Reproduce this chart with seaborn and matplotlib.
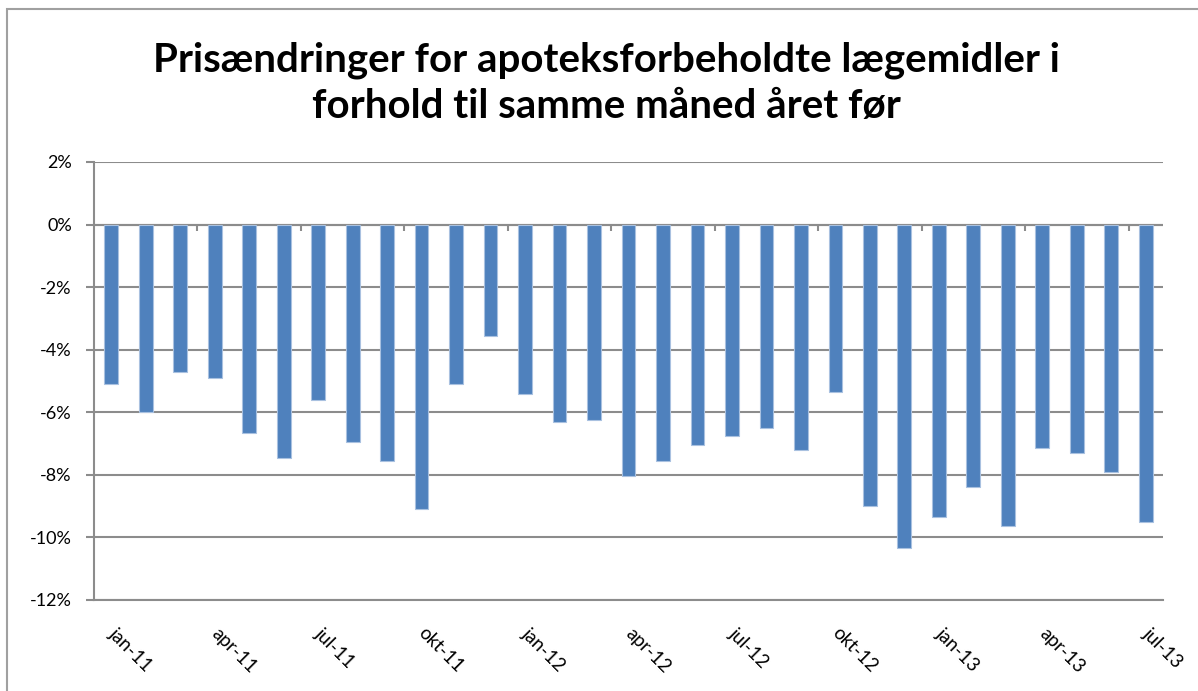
import matplotlib
matplotlib.use("Agg")
import matplotlib.pyplot as plt
import matplotlib.patches as mpatches
import matplotlib.ticker as mticker
import seaborn as sns
import pandas as pd
import numpy as np

# Data, in percent
months = ['jan-11', 'feb-11', 'mar-11', 'apr-11', 'maj-11', 'jun-11', 'jul-11',
          'aug-11', 'sep-11', 'okt-11', 'nov-11', 'dec-11',
          'jan-12', 'feb-12', 'mar-12', 'apr-12', 'maj-12', 'jun-12', 'jul-12',
          'aug-12', 'sep-12', 'okt-12', 'nov-12', 'dec-12',
          'jan-13', 'feb-13', 'mar-13', 'apr-13', 'maj-13', 'jun-13', 'jul-13']
price_change = [-5.1, -6.0, -4.7, -4.9, -6.65, -7.45, -5.6,
                -6.95, -7.55, -9.1, -5.1, -3.55,
                -5.4, -6.3, -6.25, -8.05, -7.55, -7.05, -6.75,
                -6.5, -7.2, -5.35, -9.0, -10.35,
                -9.35, -8.4, -9.65, -7.15, -7.3, -7.9, -9.5]
y_ticks = [2, 0, -2, -4, -6, -8, -10, -12]

title = "Prisændringer for apoteksforbeholdte lægemidler i\nforhold til samme måned året før"

df = pd.DataFrame({'month': months, 'change': price_change})

sns.set_theme(style='white')
plt.rcParams['font.family'] = ['Lato', 'DejaVu Sans']
plt.rcParams['text.color'] = 'black'

grid_color = '#8c8c8c'
bar_color = '#4f81bd'

fig = plt.figure(figsize=(11.98, 6.91), dpi=100)
ax = fig.add_axes([94 / 1198, 1 - 600 / 691, (1163 - 94) / 1198, (600 - 162) / 691])

sns.barplot(data=df, x='month', y='change', color=bar_color, width=0.4,
            saturation=1, edgecolor='#a9c1e0', linewidth=0.8, ax=ax, zorder=3)

ax.set_xlim(-0.5, len(months) - 0.5)
ax.set_ylim(min(y_ticks), max(y_ticks))
ax.set_yticks(y_ticks)
ax.yaxis.set_major_formatter(mticker.FuncFormatter(lambda v, p: f"{v:.0f}%"))
ax.grid(axis='y', color=grid_color, linewidth=1.5, zorder=0)
ax.tick_params(axis='y', length=6, width=1.5, color=grid_color, labelsize=13,
               labelcolor='black', pad=10, left=True)

# category axis crosses at 0%
ax.axhline(0, color=grid_color, linewidth=1.5, zorder=2)
bounds = np.arange(2.5, len(months) - 1, 3)
ax.vlines(bounds, -0.22, 0, color=grid_color, linewidth=1.5, zorder=2)

label_pos = np.arange(0, len(months), 3)
ax.set_xticks(label_pos)
ax.set_xticklabels([months[i] for i in label_pos])
ax.tick_params(axis='x', length=0, labelsize=13.5, labelcolor='black', pad=22)
for lbl in ax.get_xticklabels():
    lbl.set_rotation(-45)
    lbl.set_ha('left')
    lbl.set_va('center')
    lbl.set_rotation_mode('anchor')

ax.set_xlabel('')
ax.set_ylabel('')
for side in ['top', 'right']:
    ax.spines[side].set_visible(False)
ax.spines['left'].set_color(grid_color)
ax.spines['left'].set_linewidth(1.5)
ax.spines['bottom'].set_color(grid_color)
ax.spines['bottom'].set_linewidth(1.5)

fig.text(606 / 1198, 1 - 83 / 691, title, ha='center', va='center',
         fontsize=29, fontweight='bold', linespacing=1.3, color='black')

# chart area border
fig.patches.append(mpatches.Rectangle((7 / 1198, -0.1), 1.2, 1 - 9 / 691 + 0.1,
                                      transform=fig.transFigure, fill=False,
                                      edgecolor='#a0a0a0', linewidth=1.5))

fig.savefig('out.png', dpi=100)
